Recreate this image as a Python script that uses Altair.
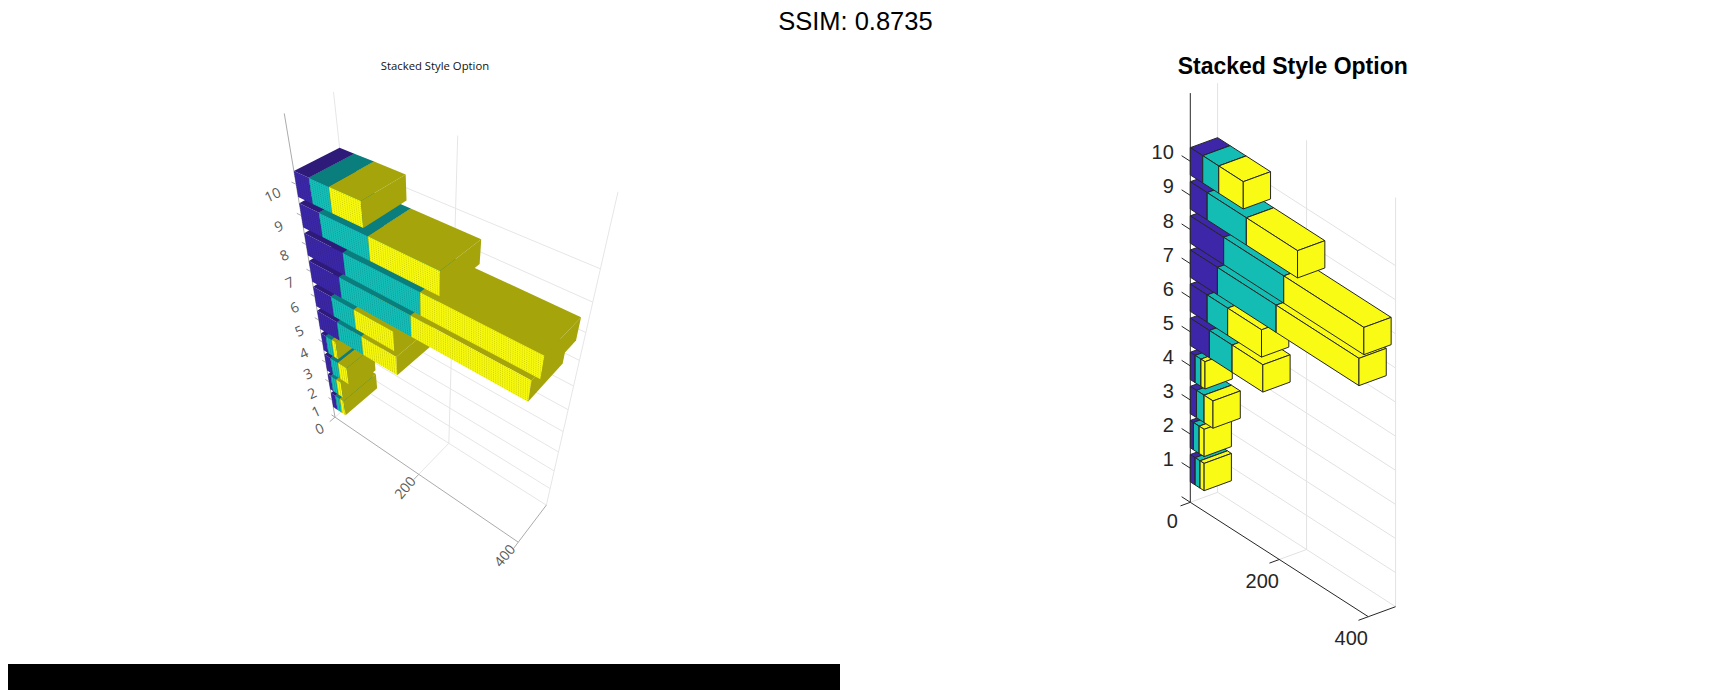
import altair as alt
import numpy as np

# stacked series, one row per group 1..10
series_a = [11, 7, 14, 11, 43, 38, 61, 75, 38, 28]
series_b = [11, 13, 17, 13, 51, 46, 132, 135, 88, 36]
series_c = [9, 11, 20, 9, 69, 76, 186, 180, 115, 55]
z_ticks = [0, 1, 2, 3, 4, 5, 6, 7, 8, 9, 10]
v_ticks = [0, 200, 400]
title_text = "Stacked Style Option"
header_text = "SSIM: 0.8735"

W, H = 1699, 682
OFF = 8
HALF = 0.4
TEXTURE_LINES = 12

# ---- cameras (world: value v, depth d 0..1, level z) ----
def right_cam(v, d, z):
    return (1190.3 + 0.445 * v + 27.3 * d, 502.3 + 0.286 * v - 10.0 * d - 34.1 * z)

calib = [
    ((0, 0, 0), (335, 416.7)), ((200, 0, 0), (419, 475)), ((400, 0, 0), (517.3, 542.3)),
    ((400, 1, 0), (546.7, 505)), ((200, 1, 0), (449, 443.3)), ((0, 0, 12), (284, 113.3)),
    ((0, 1, 12), (333.3, 91.7)), ((200, 1, 12), (457.3, 136)), ((400, 1, 12), (618.3, 191.7)),
    ((0, 0, 10.4), (294, 170.7)), ((0, 1, 10.4), (339.3, 148.3)), ((119, 1, 10.4), (405.7, 174.3)),
    ((119, 0, 10.4), (361.7, 201.7)), ((119, 0, 9.6), (363.3, 227.7)),
    ((390, 1, 8.4), (581, 316.7)), ((379, 0, 6.6), (528.3, 401.7)),
]
A, b = [], []
for (v, d, z), (u, w) in calib:
    X = [v / 400, d, z / 12]
    A.append(X + [1, 0, 0, 0, 0] + [-u * c for c in X])
    b.append(u)
    A.append([0, 0, 0, 0] + X + [1] + [-w * c for c in X])
    b.append(w)
h = np.linalg.lstsq(np.array(A, float), np.array(b, float), rcond=None)[0]

def left_cam(v, d, z):
    X = np.array([v / 400, d, z / 12, 1.0])
    den = h[8:11] @ X[:3] + 1
    return (float(h[0:4] @ X / den), float(h[4:8] @ X / den))

def pix(cam, p):
    x, y = cam(*p)
    return [x - OFF, y - OFF]

def feature(cam, pts, geom="Polygon", **props):
    c = [pix(cam, p) for p in pts]
    coords = [c + [c[0]]] if geom == "Polygon" else c
    return {"type": "Feature", "geometry": {"type": geom, "coordinates": coords}, "properties": props}

def boxes():
    for i in range(10):
        z = i + 1
        lo = 0
        for s, vals in enumerate((series_a, series_b, series_c)):
            hi = lo + vals[i]
            yield s, lo, hi, z - HALF, z + HALF
            lo = hi

def faces(lo, hi, z0, z1):
    top = [(lo, 0, z1), (hi, 0, z1), (hi, 1, z1), (lo, 1, z1)]
    front = [(lo, 0, z0), (hi, 0, z0), (hi, 0, z1), (lo, 0, z1)]
    end = [(hi, 0, z0), (hi, 1, z0), (hi, 1, z1), (hi, 0, z1)]
    return top, front, end

R_COL = ["#3D26A8", "#14BDB4", "#F9FB15"]
L_TOP = ["#2E1A78", "#0A7D7D", "#A5A50B"]
L_FRONT = ["#3B28A8", "#14BFB8", "#F8FA0D"]

def face_texture(s, lo, hi, z0, z1):
    rows = []
    for k in range(TEXTURE_LINES):
        z = z0 + (z1 - z0) * (k + 0.5) / TEXTURE_LINES
        rows.append([pix(left_cam, (lo, 0, z)), pix(left_cam, (hi, 0, z))])
    return {"type": "Feature", "geometry": {"type": "MultiLineString", "coordinates": rows},
            "properties": {"fill": "none", "stroke": L_TOP[s], "sw": 0.55, "dash": "dots"}}

left_polys, right_polys = [], []
for s, lo, hi, z0, z1 in boxes():
    t, f, e = faces(lo, hi, z0, z1)
    solid = dict(stroke="none", sw=0, dash="solid")
    left_polys.append(feature(left_cam, t, fill=L_TOP[s], **solid))
    left_polys.append(feature(left_cam, f, fill=L_FRONT[s], **solid))
    left_polys.append(face_texture(s, lo, hi, z0, z1))
    left_polys.append(feature(left_cam, e, fill=L_TOP[s], **solid))
    for q in (t, f, e):
        right_polys.append(feature(right_cam, q, fill=R_COL[s]))

def grid_lines(cam):
    out = []
    for z in z_ticks:
        out.append(feature(cam, [(0, 1, z), (400, 1, z)], "LineString"))
    for v in v_ticks:
        out.append(feature(cam, [(v, 1, 0), (v, 1, 12)], "LineString"))
    for v in v_ticks[:2]:
        out.append(feature(cam, [(v, 0, 0), (v, 1, 0)], "LineString"))
    return out

def axis_lines(cam):
    return [
        feature(cam, [(0, 0, 0), (0, 0, 12)], "LineString"),
        feature(cam, [(0, 0, 0), (400, 0, 0)], "LineString"),
        feature(cam, [(400, 0, 0), (400, 1, 0)], "LineString"),
    ]

def tick_lines(cam, zlen, dlen):
    out = []
    for z in z_ticks:
        out.append(feature(cam, [(0, 0, z), (-zlen, 0, z)], "LineString"))
    for v in v_ticks:
        out.append(feature(cam, [(v, 0, 0), (v, -dlen, 0)], "LineString"))
    return out

# ---- labels ----
def shifted(cam, p, dx, dy):
    x, y = cam(*p)
    return x - OFF + dx, y - OFF + dy

right_text = []
for z in z_ticks[1:]:
    x, y = shifted(right_cam, (0, 0, z), -16.5, -8)
    right_text.append({"lon": x, "lat": y, "t": str(z), "al": "right"})
x, y = shifted(right_cam, (0, 0, 0), -18, 20)
right_text.append({"lon": x, "lat": y, "t": "0"})
for v in v_ticks[1:]:
    x, y = shifted(right_cam, (v, 0, 0), -17, 22)
    right_text.append({"lon": x, "lat": y, "t": str(v)})

left_text = []
for z in z_ticks:
    x, y = shifted(left_cam, (0, 0, z), -15 - 0.8 * z, 12.5 - 0.1 * z)
    left_text.append({"lon": x, "lat": y, "t": str(z), "a": 335})
for v in v_ticks[1:]:
    x, y = shifted(left_cam, (v, 0, 0), -13, 14)
    left_text.append({"lon": x, "lat": y, "t": str(v), "a": 310})

proj = dict(type="identity", scale=1, translate=[0, 0])

def geo(features, **mark):
    return alt.Chart(alt.Data(values=features)).mark_geoshape(**mark).project(**proj)

def label(rows, **mark):
    return alt.Chart(alt.Data(values=rows)).mark_text(baseline="middle", **mark).encode(
        longitude="lon:Q", latitude="lat:Q", text="t:N"
    ).project(**proj)

def single(text, x, y, **mark):
    return label([{"lon": x - OFF, "lat": y - OFF, "t": text}], **mark)

fill_enc = alt.Fill("properties.fill:N", scale=None)

left_bars = geo(left_polys).encode(
    fill=fill_enc,
    stroke=alt.Stroke("properties.stroke:N", scale=None),
    strokeWidth=alt.StrokeWidth("properties.sw:Q", scale=None),
    strokeDash=alt.StrokeDash(
        "properties.dash:N",
        scale=alt.Scale(domain=["solid", "dots"], range=[[1, 0], [1, 1.6]]),
        legend=None,
    ),
)

layers = [
    geo(grid_lines(left_cam), filled=False, stroke="#E6E6E6", strokeWidth=1),
    geo(grid_lines(right_cam), filled=False, stroke="#E2E2E2", strokeWidth=1),
    geo(axis_lines(left_cam), filled=False, stroke="#ABABAB", strokeWidth=1),
    geo(tick_lines(left_cam, 9, 0.16), filled=False, stroke="#ABABAB", strokeWidth=1),
    left_bars,
    geo(axis_lines(right_cam), filled=False, stroke="#262626", strokeWidth=1),
    geo(tick_lines(right_cam, 19.5, 0.36), filled=False, stroke="#262626", strokeWidth=1),
    geo(right_polys, stroke="#262626", strokeWidth=1).encode(fill=fill_enc),
    alt.Chart(alt.Data(values=left_text)).mark_text(
        baseline="middle", font="Open Sans", fontSize=14, color="#5A5A5A"
    ).encode(longitude="lon:Q", latitude="lat:Q", text="t:N", angle=alt.Angle("a:Q", scale=None)).project(**proj),
    label([r for r in right_text if r.get("al")], align="right", font="Liberation Sans", fontSize=20, color="#262626"),
    label([r for r in right_text if not r.get("al")], align="center", font="Liberation Sans", fontSize=20, color="#262626"),
    single(title_text, 435, 67, align="center", font="Open Sans", fontSize=11.3, color="#111111"),
    single(title_text, 1292.7, 67, align="center", font="Liberation Sans", fontSize=23, fontWeight="bold", color="#000000"),
    single(header_text, 855.4, 21.5, align="center", font="Liberation Sans", fontSize=25.5, color="#000000"),
    geo([feature(lambda a, b, c: (a, b), [(OFF, 664, 0), (840, 664, 0), (840, 690, 0), (OFF, 690, 0)], fill="#000000")],
        fill="#000000", strokeWidth=0),
]

chart = alt.layer(*layers).properties(
    width=W, height=H, padding=0, autosize=alt.AutoSizeParams(type="none")
).configure_view(stroke=None)

chart.save("out.html", embed_options={"renderer": "svg", "actions": False})
